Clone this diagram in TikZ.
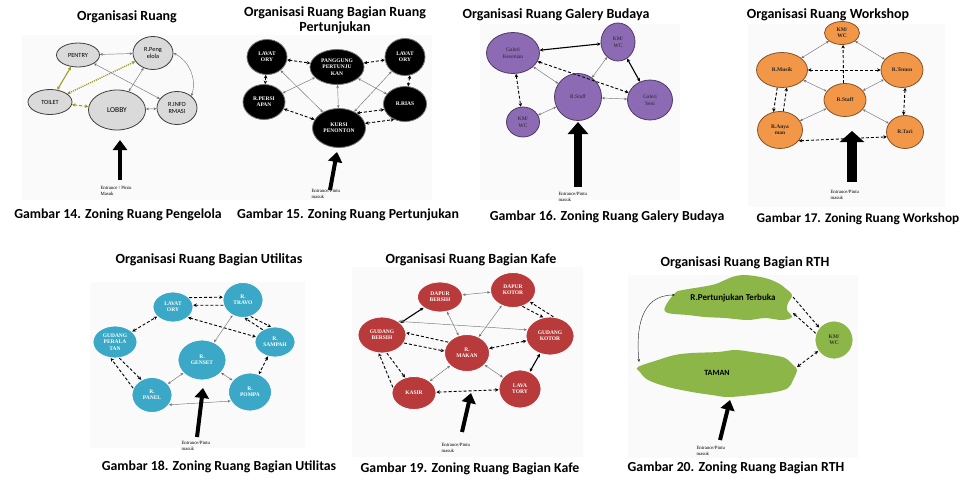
\documentclass[tikz,border=0pt]{standalone}
\usepackage{fontspec}
\setmainfont{Liberation Serif}
\setsansfont{Carlito}
\usepackage{tikz}
\usetikzlibrary{arrows.meta,shapes.geometric}

\definecolor{roomgrey}{RGB}{218,218,218}
\definecolor{olivelink}{RGB}{160,155,40}
\definecolor{galpurple}{RGB}{140,106,180}
\definecolor{wsorange}{RGB}{242,150,72}
\definecolor{utcyan}{RGB}{58,168,198}
\definecolor{kafered}{RGB}{184,58,58}
\definecolor{rthgreen}{RGB}{141,182,72}

\tikzset{
  panelbg/.style={fill=black!2,draw=none},
  titletext/.style={font=\sffamily\bfseries\fontsize{14}{15}\selectfont,align=center},
  captiontext/.style={font=\sffamily\bfseries\fontsize{13.8}{15}\selectfont},
  room/.style={ellipse,inner sep=0pt,align=center,line width=0.8pt,
    font=\bfseries\fontsize{5.5}{6.2}\selectfont},
  greyroom/.style={room,draw=black!75,fill=roomgrey,font=\sffamily\fontsize{6.3}{7.3}\selectfont},
  blackroom/.style={room,draw=black!55,fill=black,text=white},
  purpleroom/.style={room,draw=galpurple!55!black,fill=galpurple,text=black!85,font=\fontsize{5.5}{6.5}\selectfont},
  orangeroom/.style={room,draw=wsorange!55!black,fill=wsorange,text=black!85},
  cyanroom/.style={room,draw=white,fill=utcyan,text=white},
  redroom/.style={room,draw=white,fill=kafered,text=white},
  greenroom/.style={room,draw=white,fill=rthgreen,text=black!80},
  thinlink/.style={<->,>={Stealth[length=3pt,width=2.6pt]},draw=black!55,line width=0.45pt},
  boldlink/.style={<->,>={Stealth[length=3.5pt,width=3.5pt]},line width=1.1pt},
  dashlink/.style={<->,>={Stealth[length=3.5pt,width=3.5pt]},densely dashed,line width=0.9pt},
  entry/.style={-{Triangle[length=10pt,width=14pt]},line width=4pt},
  entrytext/.style={font=\fontsize{4.8}{5.8}\selectfont,align=left,anchor=north west},
}

\begin{document}
\begin{tikzpicture}[x=1pt,y=-1pt]
\useasboundingbox (0,0) rectangle (966,482);

% Gambar 14 - pengelola
\fill[panelbg] (22,35) rectangle (237,200);
\node[titletext] (t14) at (127,17) {Organisasi Ruang};
\node[greyroom,minimum width=43,minimum height=24] (pentry) at (78,55) {PENTRY};
\node[greyroom,minimum width=40,minimum height=33] (peng) at (153,53) {R.Peng\\elola};
\node[greyroom,minimum width=44,minimum height=25] (toilet) at (50,102) {TOILET};
\node[greyroom,minimum width=57,minimum height=40,font=\sffamily\fontsize{7.5}{8}\selectfont] (lobby) at (117,110) {LOBBY};
\node[greyroom,minimum width=40,minimum height=33] (info) at (177,108) {R.INFO\\RMASI};
\draw[thinlink] (pentry) -- (peng);
\draw[thinlink] (pentry) -- (info);
\draw[thinlink] (peng) -- (lobby);
\draw[thinlink] (lobby) -- (info);
\draw[thinlink] (peng.east) to[bend left=40] (info.north east);
\draw[boldlink,olivelink] (pentry) -- (toilet);
\draw[boldlink,olivelink,densely dotted,line width=1.4pt] (toilet) -- (peng);
\draw[boldlink,olivelink,densely dashed] (toilet) -- (lobby);
\coordinate (in14) at (120,180);
\coordinate (to14) at (120,140);
\draw[entry] (in14) -- (to14);
\node[entrytext] (e14) at (97,183) {Entrance / Pintu\\Masuk};
\node[captiontext] (c14) at (118,215) {Gambar 14. Zoning Ruang Pengelola};

% Gambar 15 - pertunjukan
\fill[panelbg] (237,35) rectangle (432,200);
\node[titletext] (t15) at (335,20) {Organisasi Ruang Bagian Ruang\\Pertunjukan};
\node[blackroom,minimum width=40,minimum height=35] (lavl) at (267,57) {LAVAT\\ORY};
\node[blackroom,minimum width=54,minimum height=35] (pang) at (337,67) {PANGGUNG\\PERTUNJU\\KAN};
\node[blackroom,minimum width=40,minimum height=37] (lavr) at (405,57) {LAVAT\\ORY};
\node[blackroom,minimum width=42,minimum height=35] (persi) at (264,102) {R.PERSI\\APAN};
\node[blackroom,minimum width=43,minimum height=35] (rias) at (405,104) {R.RIAS};
\node[blackroom,minimum width=53,minimum height=39] (kursi) at (339,128) {KURSI\\PENONTON};
\draw[dashlink] (lavl) -- (pang);
\draw[dashlink] (pang) -- (lavr);
\draw[dashlink] (lavl) -- (persi);
\draw[dashlink] (lavr.285) -- (rias.80);
\draw[thinlink] (lavl) -- (kursi);
\draw[thinlink] (pang) -- (persi);
\draw[thinlink] (pang) -- (kursi);
\draw[thinlink] (pang) -- (rias);
\draw[thinlink] (lavr) -- (kursi);
\draw[dashlink] (persi) -- (kursi);
\draw[dashlink] (kursi.40) -- (rias.195);
\draw[dashlink] (kursi.10) -- (rias.235);
\coordinate (in15) at (330,190);
\coordinate (to15) at (337,152);
\draw[entry] (in15) -- (to15);
\node[entrytext] (e15) at (308,186) {Entrance/Pintu\\masuk};
\node[captiontext] (c15) at (348,215) {Gambar 15. Zoning Ruang Pertunjukan};

% Gambar 16 - galery budaya
\fill[panelbg] (480,24) rectangle (680,200);
\node[titletext] (t16) at (556,15) {Organisasi Ruang Galery Budaya};
\node[purpleroom,minimum width=53,minimum height=41] (gkes) at (513,53) {Galeri\\Kesenian};
\node[purpleroom,minimum width=34,minimum height=38] (kmt) at (618,42) {KM/\\WC};
\node[purpleroom,minimum width=47,minimum height=47] (gstaff) at (578,97) {R.Staff};
\node[purpleroom,minimum width=45,minimum height=40] (gseni) at (650,100) {Galeri\\Seni};
\node[purpleroom,minimum width=33,minimum height=30] (kmb) at (523,122) {KM/\\WC};
\draw[boldlink] (gkes) -- (kmt);
\draw[boldlink] (kmt) -- (gseni);
\draw[dashlink] (gkes) -- (gseni);
\draw[dashlink] (gkes) -- (kmb);
\draw[thinlink] (gkes) -- (gstaff);
\draw[thinlink] (kmt) -- (gstaff);
\draw[thinlink] (gstaff) -- (gseni);
\draw[thinlink] (gstaff) -- (kmb);
\coordinate (in16) at (578,187);
\coordinate (to16) at (578,122);
\draw[entry,line width=8pt,-{Triangle[length=12pt,width=20pt]}] (in16) -- (to16);
\node[entrytext] (e16) at (555,189) {Entrance/Pintu\\masuk};
\node[captiontext] (c16) at (607,217) {Gambar 16. Zoning Ruang Galery Budaya};

% Gambar 17 - workshop
\fill[panelbg] (748,24) rectangle (945,207);
\node[titletext] (t17) at (828,15) {Organisasi Ruang Workshop};
\node[orangeroom,minimum width=35,minimum height=23] (km) at (842,33) {KM/\\WC};
\node[orangeroom,minimum width=51,minimum height=35] (musik) at (782,70) {R.Musik};
\node[orangeroom,minimum width=42,minimum height=35] (tenun) at (902,70) {R.Tenun};
\node[orangeroom,minimum width=42,minimum height=33] (wstaff) at (845,100) {R.Staff};
\node[orangeroom,minimum width=45,minimum height=37] (anyaman) at (780,130) {R.Anya\\man};
\node[orangeroom,minimum width=37,minimum height=33] (tari) at (905,132) {R.Tari};
\draw[thinlink] (km) -- (musik);
\draw[thinlink] (km) -- (tenun);
\draw[thinlink] (musik) -- (wstaff);
\draw[thinlink] (tenun) -- (wstaff);
\draw[thinlink] (wstaff) -- (anyaman);
\draw[thinlink] (wstaff) -- (tari);
\draw[dashlink] (musik) -- (tenun);
\draw[dashlink,->] (wstaff.95) -- (km.275);
\draw[dashlink,->] (musik.255) -- (anyaman.110);
\draw[dashlink,->] (anyaman.80) -- (musik.285);
\draw[dashlink] (tenun.280) -- (tari.95);
\draw[dashlink] (anyaman.330) -- (tari.195);
\coordinate (in17) at (852,182);
\coordinate (to17) at (852,131);
\draw[entry,line width=10pt,-{Triangle[length=11pt,width=24pt]}] (in17) -- (to17);
\node[entrytext] (e17) at (827,187) {Entrance/Pintu\\masuk};
\node[captiontext,font=\sffamily\bfseries\fontsize{13.3}{15}\selectfont] (c17) at (858,219) {Gambar 17. Zoning Ruang Workshop};

% Gambar 18 - utilitas
\fill[panelbg] (90,282) rectangle (305,448);
\node[titletext] (t18) at (209,260) {Organisasi Ruang Bagian Utilitas};
\node[cyanroom,minimum width=40,minimum height=30] (lav) at (173,307) {LAVAT\\ORY};
\node[cyanroom,minimum width=40,minimum height=35] (travo) at (243,300) {R.\\TRAVO};
\node[cyanroom,minimum width=44,minimum height=32] (gudang) at (115,342) {GUDANG\\PERALA\\TAN};
\node[cyanroom,minimum width=40,minimum height=30] (sampah) at (275,342) {R.\\SAMPAH};
\node[cyanroom,minimum width=48,minimum height=40] (genset) at (202,360) {R.\\GENSET};
\node[cyanroom,minimum width=40,minimum height=35] (rpanel) at (152,395) {R.\\PANEL};
\node[cyanroom,minimum width=43,minimum height=38] (pompa) at (250,392) {R.\\POMPA};
\draw[dashlink,->] (lav.30) -- (travo.172);
\draw[dashlink,->] (travo.195) -- (lav.5);
\draw[dashlink] (gudang) -- (lav);
\draw[dashlink] (lav.325) -- (sampah.165);
\draw[dashlink,->] (travo.295) -- (sampah.105);
\draw[dashlink,->] (sampah.135) -- (travo.275);
\draw[thinlink] (travo) -- (genset);
\draw[dashlink,->] (gudang.285) -- (rpanel.125);
\draw[dashlink,->] (rpanel.160) -- (gudang.255);
\draw[dashlink] (sampah) -- (pompa);
\draw[thinlink] (genset) -- (rpanel);
\draw[thinlink] (genset) -- (pompa);
\draw[thinlink] (rpanel.330) -- (pompa.205);
\coordinate (in18) at (197,437);
\coordinate (to18) at (203,388);
\draw[entry] (in18) -- (to18);
\node[entrytext] (e18) at (178,438) {Entrance/Pintu\\masuk};
\node[captiontext] (c18) at (219,467) {Gambar 18. Zoning Ruang Bagian Utilitas};

% Gambar 19 - kafe
\fill[panelbg] (352,267) rectangle (583,457);
\node[titletext] (t19) at (471,260) {Organisasi Ruang Bagian Kafe};
\node[redroom,minimum width=45,minimum height=30] (dbersih) at (440,297) {DAPUR\\BERSIH};
\node[redroom,minimum width=45,minimum height=35] (dkotor) at (513,290) {DAPUR\\KOTOR};
\node[redroom,minimum width=48,minimum height=36] (gbersih) at (382,335) {GUDANG\\BERSIH};
\node[redroom,minimum width=48,minimum height=38] (gkotor) at (550,336) {GUDANG\\KOTOR};
\node[redroom,minimum width=45,minimum height=37] (makan) at (467,353) {R.\\MAKAN};
\node[redroom,minimum width=44,minimum height=33] (kasir) at (414,393) {KASIR};
\node[redroom,minimum width=42,minimum height=38] (lava) at (520,389) {LAVA\\TORY};
\draw[thinlink] (dbersih) -- (dkotor);
\draw[boldlink] (dbersih) -- (gbersih);
\draw[dashlink,->] (dkotor.300) -- (gkotor.110);
\draw[dashlink,->] (gkotor.80) -- (dkotor.325);
\draw[thinlink] (gbersih.40) -- (gkotor.165);
\draw[thinlink] (dbersih) -- (makan);
\draw[thinlink] (dkotor) -- (makan);
\draw[dashlink,->] (makan.150) -- (gbersih.5);
\draw[dashlink,->] (gbersih.340) -- (makan.175);
\draw[dashlink] (makan) -- (gkotor);
\draw[dashlink,->] (gbersih.285) -- (kasir.120);
\draw[dashlink,->] (kasir.165) -- (gbersih.260);
\draw[boldlink] (gkotor) -- (lava);
\draw[thinlink] (makan) -- (kasir);
\draw[thinlink] (makan) -- (lava);
\draw[dashlink] (kasir) -- (lava);
\coordinate (in19) at (462,432);
\coordinate (to19) at (471,393);
\draw[entry] (in19) -- (to19);
\node[entrytext] (e19) at (438,440) {Entrance/Pintu\\masuk};
\node[captiontext] (c19) at (470,469) {Gambar 19. Zoning Ruang Bagian Kafe};

% Gambar 20 - RTH
\fill[panelbg] (628,275) rectangle (858,458);
\node[titletext] (t20) at (745,263) {Organisasi Ruang Bagian RTH};
\fill[rthgreen] plot[smooth cycle,tension=0.6] coordinates {(665,307) (675,293) (683,290) (712,285) (725,280) (732,277) (745,275) (765,278) (778,283) (785,288) (792,295) (788,303) (787,310) (792,317) (782,320) (765,318) (748,320) (725,318) (705,317) (688,315) (668,313)};
\fill[rthgreen] plot[smooth cycle,tension=0.6] coordinates {(638,367) (658,360) (675,355) (692,353) (718,352) (735,350) (752,352) (772,355) (785,358) (793,365) (797,370) (793,380) (788,388) (775,392) (752,395) (728,397) (712,395) (692,392) (668,387) (648,380) (640,372)};
\node[font=\sffamily\bfseries\fontsize{9}{10}\selectfont] (pert) at (733,298) {R.Pertunjukan Terbuka};
\node[font=\sffamily\bfseries\fontsize{8}{9}\selectfont] (taman) at (717,373) {TAMAN};
\node[greenroom,minimum width=38,minimum height=38] (kmwc) at (834,340) {KM/\\WC};
\coordinate (pl) at (675,295);
\coordinate (tl) at (639,362);
\coordinate (pr1) at (793,297);
\coordinate (pr2) at (793,313);
\coordinate (tr) at (797,367);
\draw[thinlink,draw=black!80] (pl) .. controls (640,295) and (636,330) .. (tl);
\draw[dashlink,->] (pr1) -- (kmwc.140);
\draw[dashlink,->] (kmwc.160) -- (pr2);
\draw[dashlink] (tr) -- (kmwc.215);
\coordinate (in20) at (720,440);
\coordinate (to20) at (730,400);
\draw[entry] (in20) -- (to20);
\node[entrytext] (e20) at (693,443) {Entrance/Pintu\\masuk};
\node[captiontext] (c20) at (736,468) {Gambar 20. Zoning Ruang Bagian RTH};
\end{tikzpicture}
\end{document}
